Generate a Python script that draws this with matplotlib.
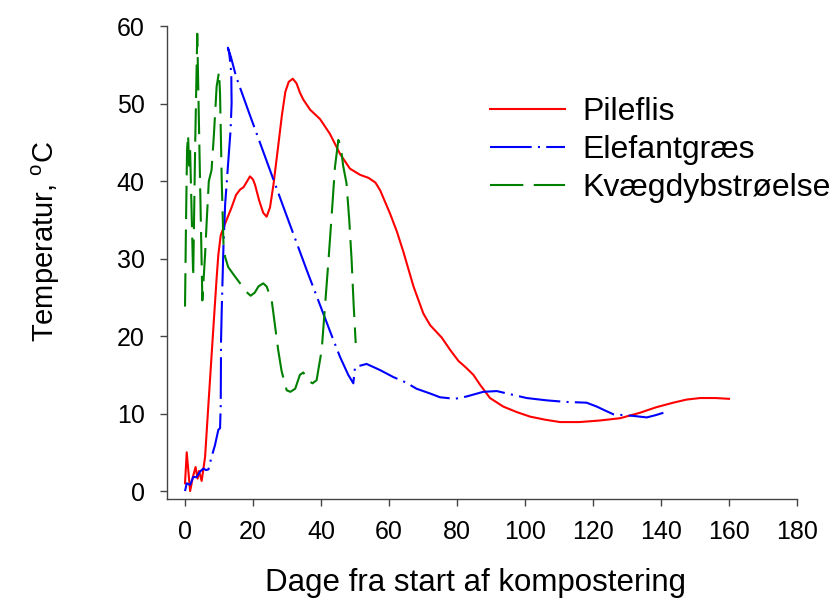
"""
Kompostering - temperaturforløb for tre materialer.
"""
import matplotlib
matplotlib.use("Agg")
import matplotlib.pyplot as plt

plt.rcParams["font.family"] = ["Liberation Sans", "DejaVu Sans"]
plt.rcParams["mathtext.fontset"] = "custom"
plt.rcParams["mathtext.rm"] = "Liberation Sans"

# Pileflis
pile_x = [0, 0.5, 1.0, 1.5, 2.3, 3.1, 3.7, 4.1, 4.9, 5.9, 7.0, 8.3, 9.3, 9.8, 10.5,
          11.6, 12.7, 13.7, 15.0, 16.2, 17.2, 18.3, 19.1, 20.0, 20.6, 21.8, 23.0,
          24.0, 25.0, 26.0, 27.4, 28.5, 29.5, 30.5, 31.7, 32.8, 33.8, 34.8, 36.8,
          39.7, 42.6, 45.6, 48.5, 51.5, 54.0, 56.0, 57.4, 60.3, 62.3, 64.2, 67.2,
          70.1, 72.1, 75.5, 78.0, 80.4, 82.7, 84.8, 86.8, 89.7, 93.6, 97.5, 101.5,
          106.0, 110.3, 116.0, 122.0, 128.0, 133.8, 138.5, 143.6, 147.5, 151.5,
          156.0, 160.0]
pile_y = [1.0, 5.0, 2.5, 0.0, 1.8, 3.1, 1.6, 2.6, 1.3, 4.4, 12.0, 20.8, 27.5, 30.5,
          33.0, 34.3, 35.5, 36.6, 38.2, 38.9, 39.2, 40.0, 40.6, 40.2, 39.5, 37.5,
          35.9, 35.4, 36.6, 39.5, 44.5, 48.5, 51.5, 52.8, 53.2, 52.6, 51.4, 50.5,
          49.2, 48.0, 46.1, 43.5, 41.6, 40.8, 40.4, 39.8, 38.8, 35.8, 33.5, 30.9,
          26.4, 22.9, 21.4, 19.8, 18.2, 16.8, 15.9, 15.0, 13.7, 12.0, 10.9, 10.2,
          9.6, 9.2, 8.9, 8.9, 9.1, 9.4, 10.1, 10.8, 11.4, 11.8, 12.0, 12.0, 11.9]

# Elefantgræs
elef_x = [0, 0.5, 1.5, 2.4, 3.4, 4.4, 5.4, 6.2, 6.9, 7.8, 8.8, 9.8, 10.3, 10.5,
          10.6, 10.8, 11.3, 11.8, 12.3, 12.8, 13.4, 13.7, 13.6, 13.0, 12.6, 13.5,
          15.0, 19.0, 23.0, 28.9, 35.8, 43.1, 45.6, 48.0, 49.5, 50.0, 53.4, 57.4,
          61.3, 65.0, 68.1, 72.0, 75.0, 79.4, 82.8, 87.7, 91.7, 94.6, 100.5, 106.4,
          112.0, 118.1, 121.1, 123.5, 126.0, 131.8, 135.8, 138.5, 140.7]
elef_y = [0.0, 1.0, 0.8, 1.8, 1.8, 2.5, 2.9, 2.7, 2.8, 4.4, 5.9, 7.9, 8.1, 11.0,
          19.5, 23.4, 31.5, 37.0, 40.0, 43.0, 46.6, 50.0, 54.0, 56.5, 57.2, 56.0,
          53.5, 48.6, 43.8, 36.7, 28.5, 20.1, 17.3, 15.0, 13.9, 16.0, 16.4, 15.6,
          14.7, 14.0, 13.2, 12.6, 12.1, 11.9, 12.2, 12.8, 12.9, 12.6, 12.0, 11.7,
          11.5, 11.4, 10.9, 10.4, 9.9, 9.7, 9.5, 9.8, 10.1]

# Kvægdybstrøelse
kvaeg_x = [0, 0.3, 0.6, 0.9, 1.2, 1.5, 2.4, 3.0, 3.6, 4.2, 5.1, 5.9, 6.4, 7.0, 7.8,
           8.5, 9.3, 10.0, 10.3, 10.8, 11.3, 11.8, 12.7, 14.5, 16.2, 17.8, 19.3,
           20.5, 21.6, 23.0, 24.0, 25.5, 27.4, 28.4, 29.9, 31.0, 32.4, 33.8, 34.8,
           36.0, 37.5, 38.7, 40.2, 41.2, 42.2, 43.2, 44.1, 45.1, 45.8, 46.5, 47.5,
           48.3, 49.0, 49.6, 50.2]
kvaeg_y = [23.8, 35.0, 44.0, 46.0, 42.0, 44.0, 27.6, 45.0, 59.0, 45.0, 24.6, 30.5,
           35.0, 40.0, 41.4, 46.0, 52.2, 54.1, 51.3, 40.0, 32.0, 30.2, 28.9, 27.8,
           26.8, 25.8, 25.2, 25.6, 26.4, 26.8, 26.4, 24.6, 18.2, 15.5, 13.0, 12.8,
           13.2, 15.0, 15.3, 14.3, 13.9, 14.3, 18.2, 24.0, 29.8, 36.0, 41.8, 45.3,
           44.5, 42.0, 39.7, 35.0, 29.8, 24.0, 19.1]

x_ticks = [0, 20, 40, 60, 80, 100, 120, 140, 160, 180]
y_ticks = [0, 10, 20, 30, 40, 50, 60]

fig = plt.figure(figsize=(8.35, 6.04), dpi=100)
ax = fig.add_axes([0.2, 0.1738, 0.7545, 0.7831])

ax.plot(pile_x, pile_y, color="#ff0000", lw=1.5, label="Pileflis")
ax.plot(elef_x, elef_y, color="#0000ff", lw=1.5, dashes=(20, 3, 1, 3),
        label="Elefantgræs")
ax.plot(kvaeg_x, kvaeg_y, color="#008000", lw=1.5, dashes=(16, 5),
        label="Kvægdybstrøelse")

ax.set_xlim(-5.3, 180)
ax.set_ylim(-1.03, 60)
ax.set_xticks(x_ticks)
ax.set_yticks(y_ticks)
ax.spines["top"].set_visible(False)
ax.spines["right"].set_visible(False)
for s in ("left", "bottom"):
    ax.spines[s].set_color("#444444")
    ax.spines[s].set_linewidth(1.0)
ax.tick_params(axis="both", direction="out", length=5, width=1, color="#444444",
               labelsize=18)
ax.tick_params(axis="y", pad=11)
ax.tick_params(axis="x", pad=10)

ax.set_xlabel("Dage fra start af kompostering", fontsize=22.5)
ax.xaxis.set_label_coords(0.49, -0.146)
ax.set_ylabel("Temperatur, $^{\\mathrm{o}}$C", fontsize=21)
ax.yaxis.set_label_coords(-0.167, 0.545)

ax.legend(loc="upper left", bbox_to_anchor=(490 / 835, 1 - 97 / 604),
          bbox_transform=fig.transFigure, frameon=False, fontsize=23,
          borderpad=0, borderaxespad=0, handlelength=2.35, handletextpad=0.55,
          labelspacing=0.25)

fig.savefig("out.png", dpi=100)
